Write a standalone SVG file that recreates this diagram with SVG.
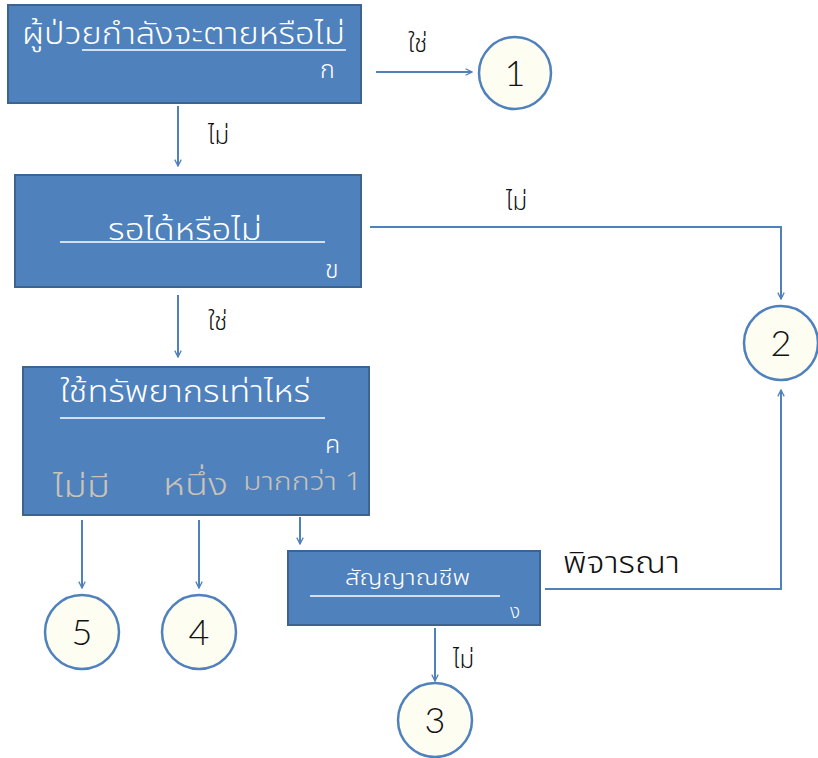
<svg xmlns="http://www.w3.org/2000/svg" width="818" height="758" viewBox="0 0 818 758">
<style>
.box{fill:#4f81bd;stroke:#3b6590;stroke-width:2}
.t{font-family:"Noto Sans Thai","Noto Sans","DejaVu Sans",sans-serif;font-weight:300;fill:#ffffff}
.g{font-family:"Noto Sans Thai","Noto Sans","DejaVu Sans",sans-serif;font-weight:300;fill:#c9c3b8}
.k{font-family:"Noto Sans Thai","Noto Sans","DejaVu Sans",sans-serif;font-weight:300;fill:#111111}
.ul{stroke:#ffffff;stroke-width:1.5}
.c{fill:#fdfdf2;stroke:#4f81bd;stroke-width:2.5}
.ln{fill:none;stroke:#4f81bd;stroke-width:2}
.n{font-family:"Lato","Open Sans",sans-serif;font-weight:300;font-size:36px;fill:#111111;text-anchor:middle}
</style>
<defs>
<marker id="ah" viewBox="0 0 10 10" refX="9" refY="5" markerWidth="8" markerHeight="8" orient="auto" markerUnits="userSpaceOnUse">
<path d="M1,1 L9,5 L1,9" fill="none" stroke="#4f81bd" stroke-width="1.6"/>
</marker>
</defs>
<g id="connectors">
<line class="ln" x1="376" y1="72" x2="472" y2="72" marker-end="url(#ah)"/>
<line class="ln" x1="178" y1="106" x2="178" y2="166" marker-end="url(#ah)"/>
<polyline class="ln" points="370,227 781,227 781,299" marker-end="url(#ah)"/>
<line class="ln" x1="178" y1="295" x2="178" y2="357" marker-end="url(#ah)"/>
<line class="ln" x1="82" y1="520" x2="82" y2="588" marker-end="url(#ah)"/>
<line class="ln" x1="199" y1="520" x2="199" y2="588" marker-end="url(#ah)"/>
<line class="ln" x1="300" y1="517" x2="300" y2="544" marker-end="url(#ah)"/>
<polyline class="ln" points="545,589 781,589 781,390" marker-end="url(#ah)"/>
<line class="ln" x1="435" y1="628" x2="435" y2="681" marker-end="url(#ah)"/>
<text class="k" x="408" y="52" font-size="24">ใช่</text>
<text class="k" x="208" y="144" font-size="24">ไม่</text>
<text class="k" x="506" y="210" font-size="24">ไม่</text>
<text class="k" x="208" y="330" font-size="24">ใช่</text>
<text class="k" x="453" y="668" font-size="24">ไม่</text>
<text class="k" x="563" y="573" font-size="31" textLength="117" lengthAdjust="spacingAndGlyphs">พิจารณา</text>
</g>
<g id="nodeA">
<rect class="box" x="8" y="5" width="353" height="98"/>
<text class="t" x="22" y="44" font-size="30" textLength="323" lengthAdjust="spacingAndGlyphs">ผู้ป่วยกำลังจะตายหรือไม่</text>
<line class="ul" x1="82" y1="50" x2="346" y2="50"/>
<text class="t" x="320" y="78" font-size="25">ก</text>
</g>
<g id="nodeB">
<rect class="box" x="15" y="175" width="346" height="112"/>
<text class="t" x="108" y="240" font-size="30" textLength="154" lengthAdjust="spacingAndGlyphs">รอได้หรือไม่</text>
<line class="ul" x1="60" y1="242" x2="325" y2="242"/>
<text class="t" x="325" y="278" font-size="25">ข</text>
</g>
<g id="nodeC">
<rect class="box" x="23" y="367" width="346" height="148"/>
<text class="t" x="60" y="402" font-size="30" textLength="250" lengthAdjust="spacingAndGlyphs">ใช้ทรัพยากรเท่าไหร่</text>
<line class="ul" x1="60" y1="418" x2="325" y2="418"/>
<text class="t" x="325" y="453" font-size="25">ค</text>
<text class="g" x="53" y="497" font-size="31" textLength="57" lengthAdjust="spacingAndGlyphs">ไม่มี</text>
<text class="g" x="163" y="495" font-size="31" textLength="65" lengthAdjust="spacingAndGlyphs">หนึ่ง</text>
<text class="g" x="243" y="490" font-size="25" textLength="119" lengthAdjust="spacingAndGlyphs">มากกว่า 1</text>
</g>
<g id="nodeD">
<rect class="box" x="288" y="551" width="252" height="74"/>
<text class="t" x="345" y="585" font-size="21" textLength="125" lengthAdjust="spacingAndGlyphs">สัญญาณชีพ</text>
<line class="ul" x1="310" y1="596" x2="500" y2="596"/>
<text class="t" x="510" y="618" font-size="19">ง</text>
</g>
<g id="n1"><circle class="c" cx="515" cy="73" r="36"/><text class="n" x="515" y="86">1</text></g>
<g id="n2"><circle class="c" cx="781" cy="343" r="37"/><text class="n" x="781" y="356">2</text></g>
<g id="n3"><circle class="c" cx="435" cy="720" r="37"/><text class="n" x="435" y="733">3</text></g>
<g id="n4"><circle class="c" cx="199" cy="632" r="37"/><text class="n" x="199" y="645">4</text></g>
<g id="n5"><circle class="c" cx="82" cy="632" r="37"/><text class="n" x="82" y="645">5</text></g>
</svg>
